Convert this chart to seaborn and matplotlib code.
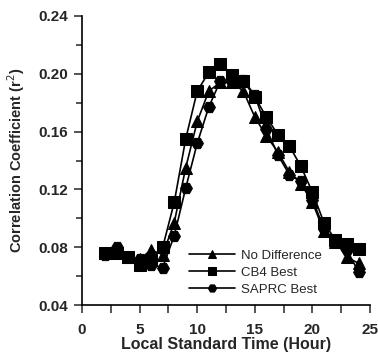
import numpy as np
import pandas as pd
import matplotlib
matplotlib.use("Agg")
import matplotlib.pyplot as plt
from matplotlib.ticker import MultipleLocator, FormatStrFormatter
import seaborn as sns

# Données
hours = list(range(2, 25))
no_difference = [0.076, 0.078, 0.073, 0.072, 0.078, 0.075, 0.097, 0.135, 0.167, 0.188,
                 0.194, 0.194, 0.188, 0.170, 0.157, 0.146, 0.132, 0.124, 0.111, 0.091,
                 0.084, 0.073, 0.069]
cb4_best = [0.076, 0.076, 0.073, 0.068, 0.071, 0.080, 0.111, 0.155, 0.188, 0.201,
            0.207, 0.199, 0.195, 0.184, 0.170, 0.158, 0.150, 0.136, 0.118, 0.097,
            0.085, 0.082, 0.079]
saprc_best = [0.075, 0.080, 0.073, 0.072, 0.068, 0.066, 0.088, 0.121, 0.152, 0.177,
              0.195, 0.194, 0.196, 0.185, 0.162, 0.144, 0.130, 0.126, 0.113, 0.093,
              0.084, 0.078, 0.063]
series_names = ["No Difference", "CB4 Best", "SAPRC Best"]
markers = ["^", "s", "H"]

sns.set_style("ticks")
plt.rcParams['font.family'] = ['Liberation Sans', 'DejaVu Sans']

fig = plt.figure(figsize=(3.78, 3.54), dpi=100)
ax = fig.add_axes([0.217, 0.138, 0.762, 0.817])

for name, vals, mk in zip(series_names, [no_difference, cb4_best, saprc_best], markers):
    df = pd.DataFrame({'hour': hours, 'r2': vals})
    sns.lineplot(data=df, x='hour', y='r2', ax=ax, color='black', linewidth=1.2,
                 marker=mk, markersize=8.5, markeredgecolor='black',
                 markerfacecolor='black', label=name)

ax.set_xlim(0, 25)
ax.set_ylim(0.04, 0.24)
ax.xaxis.set_major_locator(MultipleLocator(5))
ax.xaxis.set_minor_locator(MultipleLocator(2.5))
ax.yaxis.set_major_locator(MultipleLocator(0.04))
ax.yaxis.set_minor_locator(MultipleLocator(0.02))
ax.yaxis.set_major_formatter(FormatStrFormatter('%.2f'))
ax.tick_params(which='major', length=6, width=1.1, labelsize=11, direction='out')
ax.tick_params(which='minor', length=4, width=1.1, direction='out')
ax.tick_params(axis='x', which='minor', length=6)
ax.tick_params(axis='x', which='major', pad=7)
ax.tick_params(axis='y', which='major', pad=4)
for lab in ax.get_xticklabels() + ax.get_yticklabels():
    lab.set_fontweight('bold')

sns.despine(ax=ax)
for sp in ['left', 'bottom']:
    ax.spines[sp].set_linewidth(1.2)
    ax.spines[sp].set_color('black')

ax.set_xlabel('Local Standard Time (Hour)', fontsize=11.5, fontweight='bold', labelpad=0)
ax.set_ylabel('Correlation Coefficient (r$^2$)', fontsize=10.5, fontweight='bold', labelpad=8)

ax.legend(loc='lower left', bbox_to_anchor=(0.345, 0.005), frameon=False, fontsize=9.5,
          handlelength=3.5, handletextpad=0.4, markerscale=0.7, labelspacing=0.35,
          borderaxespad=0.2)

fig.savefig('out.png', dpi=100)
